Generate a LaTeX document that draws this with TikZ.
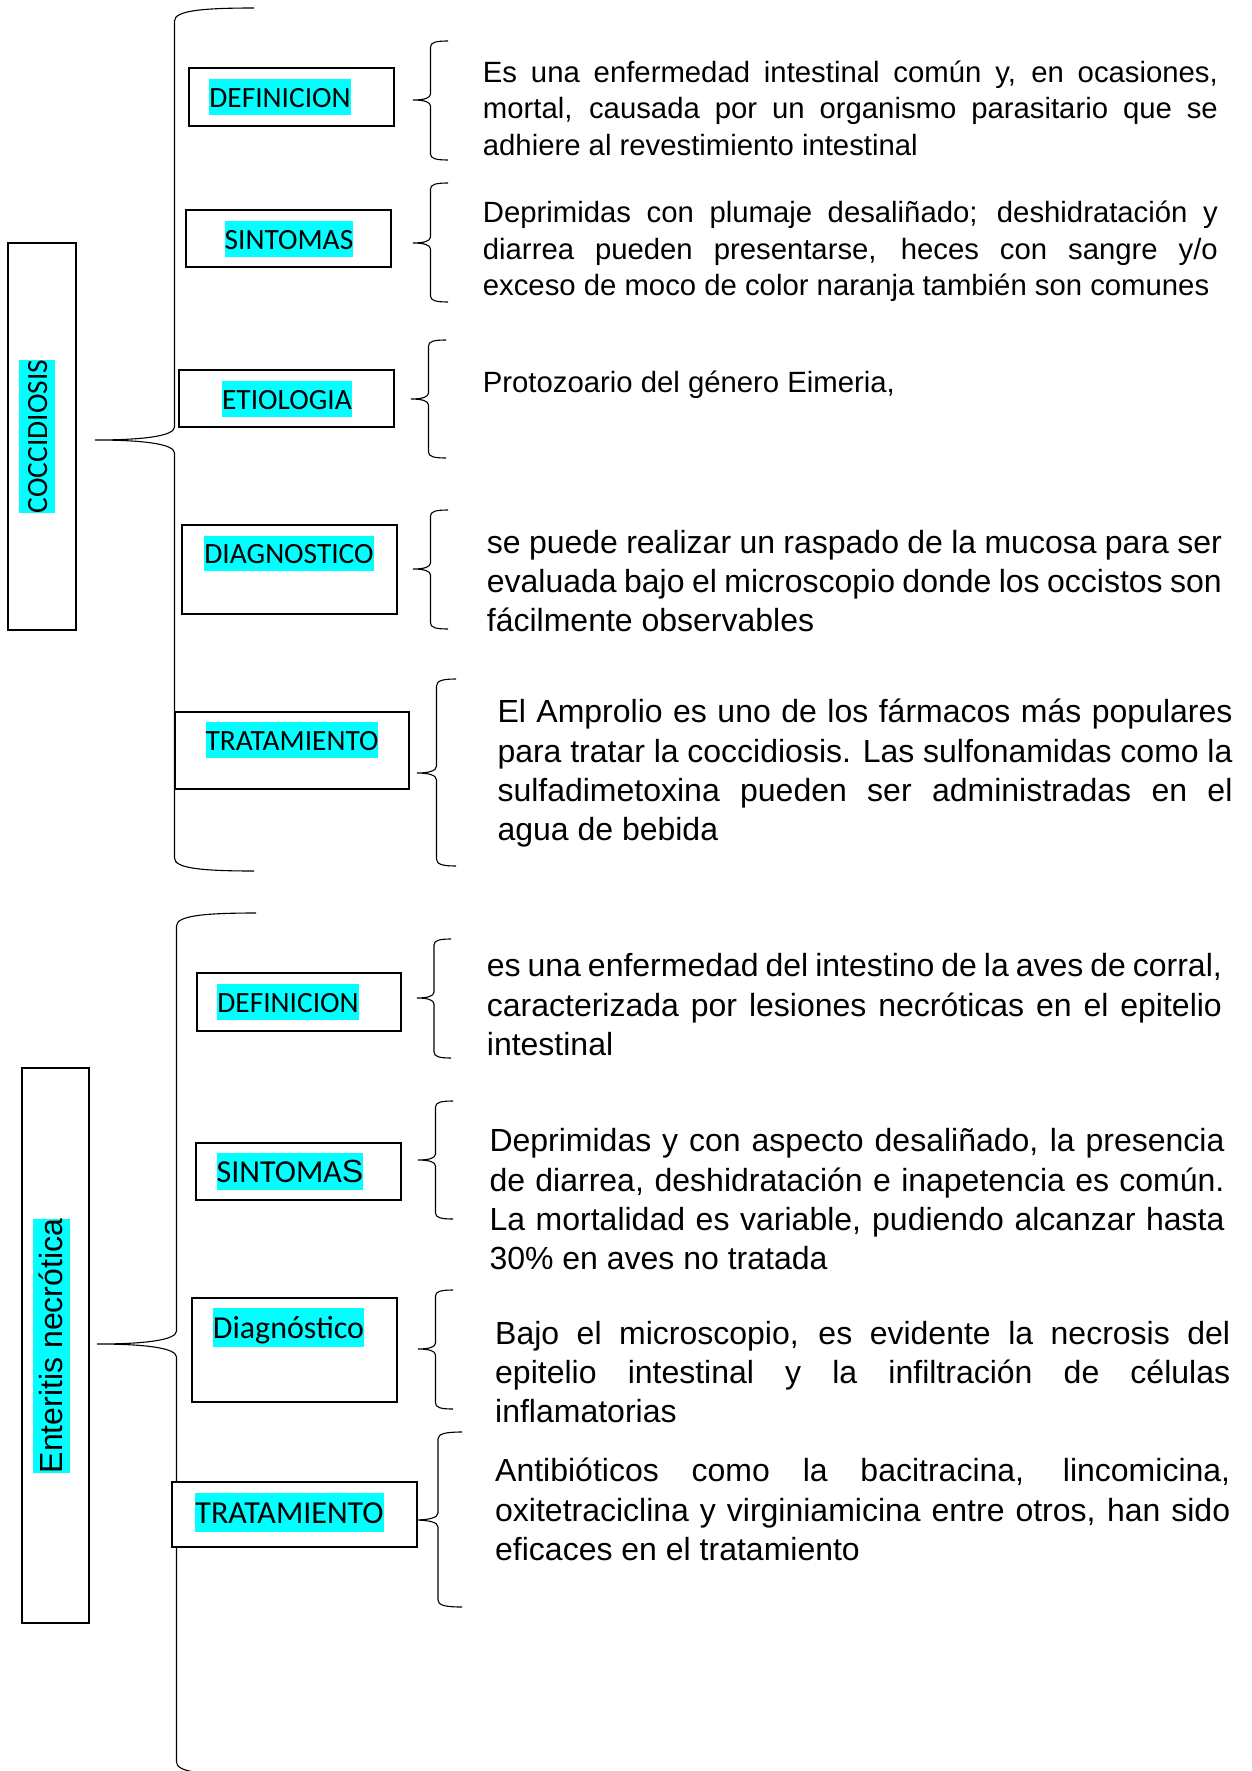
\documentclass[tikz,border=0pt]{standalone}
\usepackage{fontspec}
\setmainfont{Liberation Sans}
\newfontfamily\carl{Carlito}
\usetikzlibrary{positioning,calc}
\definecolor{resalte}{RGB}{0,255,255}
\hyphenpenalty=10000
\exhyphenpenalty=10000
\tikzset{
  caja/.style  = { draw, line width=2pt, fill=white, inner sep=0pt },
  resal/.style = { fill=resalte, inner xsep=0pt, inner ysep=0pt, text height=28pt, text depth=7.9pt,
    font=\carl\fontsize{29.4}{36}\selectfont },
  resalg/.style = { resal, text height=30.5pt, text depth=8.6pt, font=\carl\fontsize{32}{39}\selectfont },
  txt/.style   = { anchor=base west, inner sep=0pt, text width=735pt, align=justify,
    font=\fontsize{29.3}{36.5}\selectfont },
  txtg/.style  = { txt, font=\fontsize{32}{39.3}\selectfont },
  llv/.style   = { line width=1.1pt },
  % llave = arriba/abajo/ancho/curva, el origen es la punta
  pics/llave/.style args={#1/#2/#3/#4}{code={
    \draw[llv] (#3,-#1) .. controls ({0.65*#3},-#1) and ({0.5*#3},{-#1+0.25*#4}) .. ({0.5*#3},{-#1+#4})
      -- ({0.5*#3},-#4) .. controls ({0.5*#3},{-0.3*#4}) and ({0.3*#3},0) .. (0,0)
      .. controls ({0.3*#3},0) and ({0.5*#3},{0.3*#4}) .. ({0.5*#3},#4)
      -- ({0.5*#3},{#2-#4}) .. controls ({0.5*#3},{#2-0.25*#4}) and ({0.65*#3},#2) .. (#3,#2);
  }}
}
\begin{document}
\begin{tikzpicture}[x=1pt,y=-1pt]
  \useasboundingbox (0,0) rectangle (1251,1771);
  % coccidiosis
  \pic at (95,440) {llave=432/431/159/13};
  \pic at (413,100) {llave=59/60/35/6};
  \pic at (413,243) {llave=60/59/35/6};
  \pic at (411,399) {llave=59/59/35/6};
  \pic at (413,569) {llave=59/60/35/6};
  \pic at (417,773) {llave=94/93/39/7};
  \node[caja, minimum width=68, minimum height=387] (coc) at (42,436.5) {};
  \node[resal, rotate=90] (coct) at (37,436.5) {COCCIDIOSIS};
  \node[caja, minimum width=205, minimum height=58] (def1) at (291.5,97) {};
  \node[resal] (def1t) at (280,97) {DEFINICION};
  \node[caja, minimum width=205, minimum height=57] (sin1) at (288.5,238.5) {};
  \node[resal] (sin1t) at (289,239) {SINTOMAS};
  \node[caja, minimum width=215, minimum height=57] (eti) at (286.5,398.5) {};
  \node[resal] (etit) at (287,399) {ETIOLOGIA};
  \node[caja, minimum width=215, minimum height=89] (dia1) at (289.5,569.5) {};
  \node[resal] (dia1t) at (289,553.5) {DIAGNOSTICO};
  \node[caja, minimum width=234, minimum height=77] (tra1) at (292,750.5) {};
  \node[resal] (tra1t) at (292,740) {TRATAMIENTO};
  \node[txt] (tdef1) at (482.7,82.3) {Es una enfermedad intestinal común y, en ocasiones,\linebreak mortal, causada por un organismo parasitario que se\linebreak adhiere al revestimiento intestinal};
  \node[txt] (tsin1) at (482.7,223) {Deprimidas con plumaje desaliñado; deshidratación y\linebreak diarrea pueden presentarse, heces con sangre y/o\linebreak exceso de moco de color naranja también son comunes};
  \node[txt] (teti) at (482.7,392.7) {Protozoario del género Eimeria,};
  \node[txtg] (tdia1) at (486.7,553.3) {se puede realizar un raspado de la mucosa para ser\linebreak evaluada bajo el microscopio donde los occistos son\linebreak fácilmente observables};
  \node[txtg] (ttra1) at (497.3,722.7) {El Amprolio es uno de los fármacos más populares\linebreak para tratar la coccidiosis. Las sulfonamidas como la\linebreak sulfadimetoxina pueden ser administradas en el\linebreak agua de bebida};
  % enteritis necrotica
  \pic at (97,1344) {llave=431/431/159/13};
  \pic at (417,998) {llave=59/60/34/6};
  \pic at (418,1160) {llave=59/59/35/6};
  \pic at (418,1349) {llave=59/60/35/6};
  \pic at (414,1520) {llave=88/87/48/7};
  \node[caja, minimum width=67, minimum height=555] (ent) at (55.5,1345.5) {};
  \node[resal, rotate=90, text height=29.5pt, text depth=7.5pt, font=\fontsize{32}{37}\selectfont] (entt) at (51.5,1346) {Enteritis necrótica};
  \node[caja, minimum width=204, minimum height=58] (def2) at (299,1002) {};
  \node[resal] (def2t) at (288,1002) {DEFINICION};
  \node[caja, minimum width=205, minimum height=57] (sin2) at (298.5,1171.5) {};
  \node[resalg, text height=29.5pt, text depth=7.5pt] (sin2t) at (290,1171.5) {SINTOMA{\rmfamily S}};
  \node[caja, minimum width=205, minimum height=104] (dia2) at (294.5,1350) {};
  \node[resalg] (dia2t) at (288.5,1327.5) {Diagnóstico};
  \node[caja, minimum width=245, minimum height=65] (tra2) at (294.5,1514.5) {};
  \node[resalg] (tra2t) at (289.5,1512.5) {TRATAMIENTO};
  \node[txtg] (tdef2) at (486.7,976.7) {es una enfermedad del intestino de la aves de corral,\linebreak caracterizada por lesiones necróticas en el epitelio\linebreak intestinal};
  \node[txtg] (tsin2) at (489.3,1151.7) {Deprimidas y con aspecto desaliñado, la presencia\linebreak de diarrea, deshidratación e inapetencia es común.\linebreak La mortalidad es variable, pudiendo alcanzar hasta\linebreak 30\% en aves no tratada};
  \node[txtg] (tdia2) at (495,1344) {Bajo el microscopio, es evidente la necrosis del\linebreak epitelio intestinal y la infiltración de células\linebreak inflamatorias};
  \node[txtg] (ttra2) at (495,1481.7) {Antibióticos como la bacitracina, lincomicina,\linebreak oxitetraciclina y virginiamicina entre otros, han sido\linebreak eficaces en el tratamiento};
\end{tikzpicture}
\end{document}
